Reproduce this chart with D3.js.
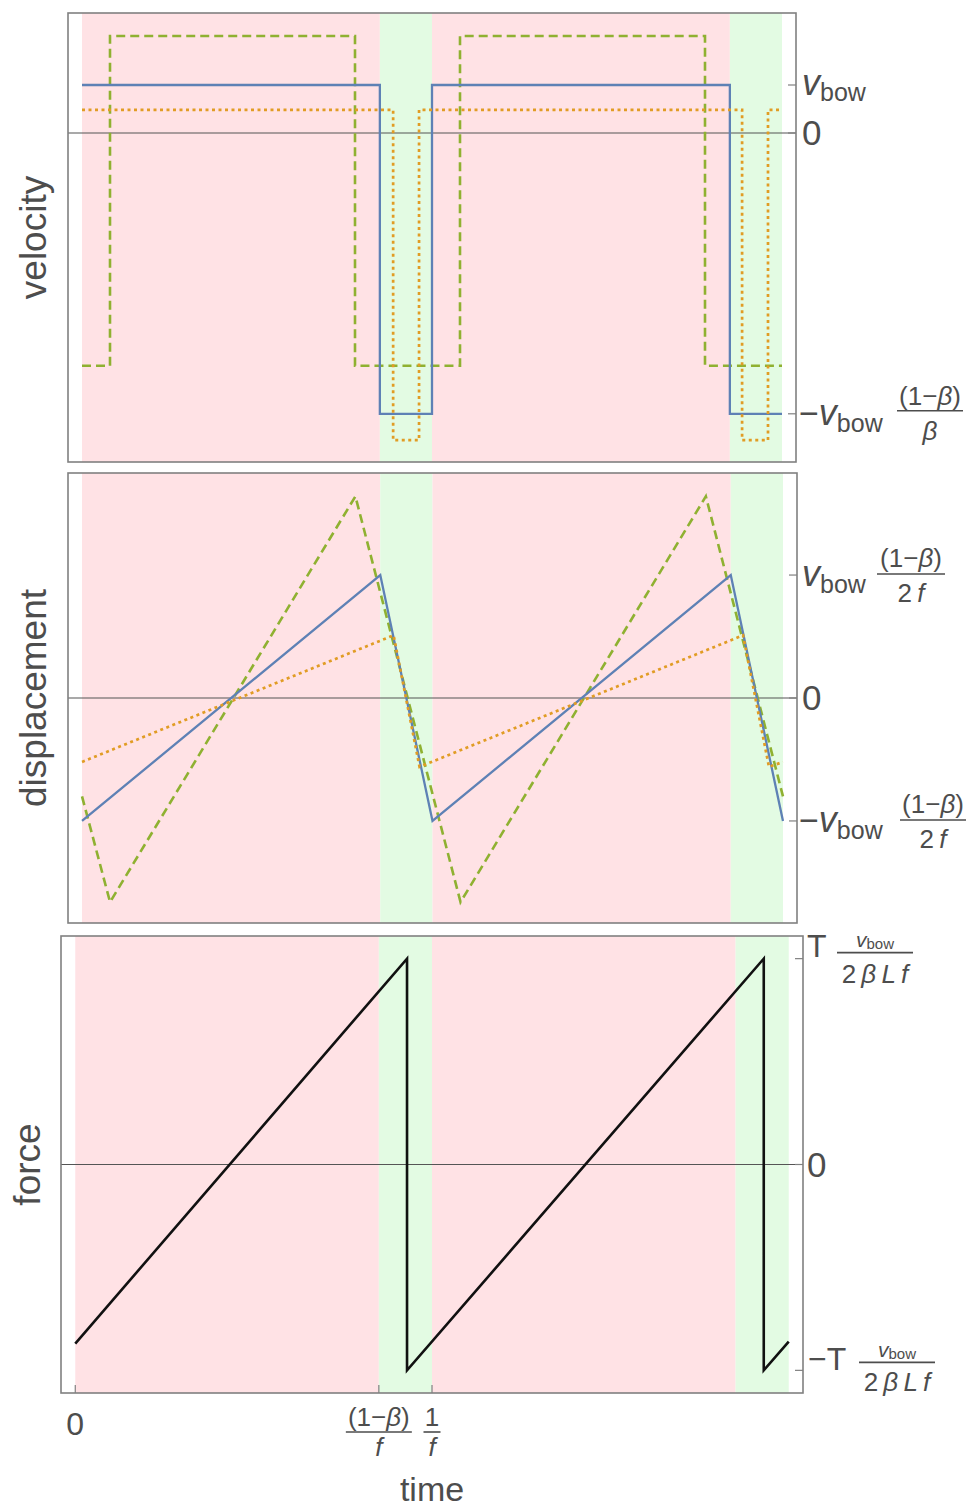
<!DOCTYPE html>
<html><head><meta charset="utf-8">
<script src="https://cdn.jsdelivr.net/npm/d3@7"></script>
<style>
body{margin:0;background:#fff}
svg{display:block}
text{font-family:"Liberation Sans",Arial,Helvetica,sans-serif;fill:#4d4d4d}
</style>
</head><body><div id="chart"></div>
<script>
// ---- data (time in periods 1/f) ----
const phaseStart = [0, 0.851, 1, 1.851];
const phaseEnd   = [0.851, 1, 1.851, 2];
const phaseKind  = ["stick", "slip", "stick", "slip"];

// velocity (units of v_bow), step changes
const velBlueT   = [0, 0.851, 1, 1.851, 2];
const velBlue    = [1, -5.85, 1, -5.85, -5.85];
const velGreenT  = [0, 0.08, 0.78, 1.08, 1.78, 2];
const velGreen   = [-4.85, 2.02, -4.85, 2.02, -4.85, -4.85];
const velOrangeT = [0, 0.889, 0.963, 1.886, 1.96, 2];
const velOrange  = [0.48, -6.4, 0.48, -6.4, 0.48, 0.48];

// displacement (units of v_bow(1-β)/(2f)), corner points
const dispBlueT   = [0, 0.851, 1, 1.851, 2];
const dispBlue    = [-1, 1, -1, 1, -1];
const dispGreenT  = [0, 0.08, 0.78, 1.08, 1.78, 2];
const dispGreen   = [-0.8, -1.66, 1.64, -1.66, 1.64, -0.8];
const dispOrangeT = [0, 0.889, 0.963, 1.886, 1.96, 2];
const dispOrange  = [-0.52, 0.51, -0.56, 0.51, -0.56, -0.52];

// force (units of T v_bow/(2βLf))
const forceT = [0, 0.93, 0.93, 1.93, 1.93, 2];
const force  = [-0.87, 1, -1, 1, -1, -0.86];

// ticks
const velTicks   = [1, 0, -5.85];
const dispTicks  = [1, 0, -1];
const forceTicks = [1, 0, -1];
const timeTicks  = [0, 0.851, 1];

// ---- layout ----
const W = 970, H = 1510;
const svg = d3.select("#chart").append("svg").attr("width", W).attr("height", H);
const xDom = [-0.04, 2.04];
const COL = {blue:"#5E81B5", orange:"#E19C24", green:"#8FB131", black:"#111"};
const TXT = "#4d4d4d";

function panel(cfg) {
  const x = d3.scaleLinear().domain(xDom).range([cfg.x0, cfg.x1]);
  const y = d3.scaleLinear().domain(cfg.yDom).range([cfg.y1, cfg.y0]);
  const g = svg.append("g");
  g.selectAll("rect.ph").data(phaseStart.map((s, i) => ({s, e: phaseEnd[i], k: phaseKind[i]})))
    .enter().append("rect")
    .attr("x", d => x(d.s)).attr("width", d => x(d.e) - x(d.s))
    .attr("y", cfg.y0).attr("height", cfg.y1 - cfg.y0)
    .attr("fill", d => d.k === "stick" ? "#FFE2E5" : "#E3FBE3");
  g.append("line").attr("x1", cfg.x0).attr("x2", cfg.x1)
    .attr("y1", y(0)).attr("y2", y(0)).attr("stroke", "#555").attr("stroke-width", 1.1);
  return {x, y, g};
}

function frame(p, cfg, ticks) {
  p.g.append("rect").attr("x", cfg.x0).attr("y", cfg.y0)
    .attr("width", cfg.x1 - cfg.x0).attr("height", cfg.y1 - cfg.y0)
    .attr("fill", "none").attr("stroke", "#808080").attr("stroke-width", 1.6);
  p.g.selectAll("line.tk").data(ticks).enter().append("line")
    .attr("x1", cfg.x1 - 8).attr("x2", cfg.x1)
    .attr("y1", d => p.y(d)).attr("y2", d => p.y(d))
    .attr("stroke", "#808080").attr("stroke-width", 1.2);
}

function series(p, T, V, color, dash, width, curve) {
  const line = d3.line().x((d, i) => p.x(T[i])).y(d => p.y(d)).curve(curve || d3.curveLinear);
  p.g.append("path").datum(V).attr("d", line)
    .attr("fill", "none").attr("stroke", color).attr("stroke-width", width)
    .attr("stroke-dasharray", dash || null).attr("stroke-linejoin", "miter");
}

// rich text: parts = [text, size, italic, baselineY]; relative dy keeps one anchor chunk
function rich(x, parts, anchor) {
  const t = svg.append("text").attr("x", x).attr("y", parts[0][3])
    .attr("text-anchor", anchor || "start").style("white-space", "pre");
  let prev = parts[0][3];
  parts.forEach(p => {
    t.append("tspan").text(p[0]).attr("font-size", p[1])
      .attr("font-style", p[2] ? "italic" : "normal").attr("dy", p[3] - prev);
    prev = p[3];
  });
  return t;
}
function frac(cx, barY, barW, num, den) {
  rich(cx, num, "middle");
  rich(cx, den, "middle");
  svg.append("line").attr("x1", cx - barW / 2).attr("x2", cx + barW / 2)
    .attr("y1", barY).attr("y2", barY).attr("stroke", TXT).attr("stroke-width", 1.6);
}
const oneMinusBeta = (fs, yb) => [["(1−", fs, false, yb], ["β", fs, true, yb], [")", fs, false, yb]];
const twoF = (fs, yb) => [["2\u2009", fs, false, yb], ["f", fs, true, yb]];
const twoBLf = (fs, yb) => [["2\u2009", fs, false, yb], ["β\u2009L\u2009f", fs, true, yb]];
const vbowSmall = (yb) => [["v", 21, true, yb], ["bow", 15, false, yb + 2]];

// ---- velocity panel ----
const cV = {x0: 68, x1: 796, y0: 13, y1: 462, yDom: [-6.854, 2.5]};
const pV = panel(cV);
series(pV, velGreenT, velGreen, COL.green, "9,5", 2.6, d3.curveStepAfter);
series(pV, velBlueT, velBlue, COL.blue, null, 2.3, d3.curveStepAfter);
series(pV, velOrangeT, velOrange, COL.orange, "3,3.5", 2.7, d3.curveStepAfter);
frame(pV, cV, velTicks);

// ---- displacement panel ----
const cD = {x0: 68, x1: 797, y0: 473, y1: 923, yDom: [-1.83, 1.83]};
const pD = panel(cD);
series(pD, dispGreenT, dispGreen, COL.green, "9,5", 2.6);
series(pD, dispBlueT, dispBlue, COL.blue, null, 2.3);
series(pD, dispOrangeT, dispOrange, COL.orange, "3,3.5", 2.7);
frame(pD, cD, dispTicks);

// ---- force panel ----
const cF = {x0: 61, x1: 803, y0: 936, y1: 1393, yDom: [-1.11, 1.11]};
const pF = panel(cF);
series(pF, forceT, force, COL.black, null, 2.6);
frame(pF, cF, forceTicks);
pF.g.selectAll("line.bt").data(timeTicks).enter().append("line")
  .attr("x1", d => pF.x(d)).attr("x2", d => pF.x(d))
  .attr("y1", cF.y1 - 8).attr("y2", cF.y1).attr("stroke", "#808080").attr("stroke-width", 1.2);

// ---- tick labels: velocity ----
let T;
T = pV.y(velTicks[0]);
rich(802, [["v", 36, true, T + 10], ["bow", 25, false, T + 16]]);
T = pV.y(velTicks[1]);
rich(802, [["0", 35, false, T + 12]]);
T = pV.y(velTicks[2]);
rich(799, [["−", 34, false, T + 11], ["v", 36, true, T + 11], ["bow", 25, false, T + 18]]);
frac(930, T - 3, 66, oneMinusBeta(26, T - 9), [["β", 26, true, T + 26]]);

// displacement
T = pD.y(dispTicks[0]);
rich(802, [["v", 36, true, T + 11], ["bow", 25, false, T + 18]]);
frac(911, T - 1, 68, oneMinusBeta(26, T - 8), twoF(26, T + 27));
T = pD.y(dispTicks[1]);
rich(802, [["0", 35, false, T + 12]]);
T = pD.y(dispTicks[2]);
rich(799, [["−", 34, false, T + 11], ["v", 36, true, T + 11], ["bow", 25, false, T + 18]]);
frac(933, T - 1, 66, oneMinusBeta(26, T - 8), twoF(26, T + 27));

// force
T = pF.y(forceTicks[0]);
rich(807, [["T", 32, false, T - 2]]);
frac(875, T - 6, 76, vbowSmall(T - 12), twoBLf(26, T + 24));
T = pF.y(forceTicks[1]);
rich(807, [["0", 35, false, T + 12]]);
T = pF.y(forceTicks[2]);
rich(808, [["−", 32, false, T], ["T", 32, false, T]]);
frac(897, T - 8, 76, vbowSmall(T - 13), twoBLf(26, T + 21));

// time axis labels
rich(pF.x(timeTicks[0]), [["0", 32, false, 1435]], "middle");
frac(pF.x(timeTicks[1]), 1432, 66, oneMinusBeta(26, 1426), [["f", 26, true, 1456]]);
frac(pF.x(timeTicks[2]), 1432, 17, [["1", 26, false, 1426]], [["f", 26, true, 1456]]);

// axis titles
svg.append("text").attr("transform", `translate(${pF.x(1)},1501)`).attr("text-anchor", "middle")
  .attr("font-size", 34).text("time");
const ytitle = (txt, x, y) => svg.append("text").attr("transform", `translate(${x},${y}) rotate(-90)`)
  .attr("text-anchor", "middle").attr("font-size", 37).text(txt);
ytitle("velocity", 46, (cV.y0 + cV.y1) / 2);
ytitle("displacement", 46, (cD.y0 + cD.y1) / 2);
ytitle("force", 40, (cF.y0 + cF.y1) / 2);
</script>
</body></html>
